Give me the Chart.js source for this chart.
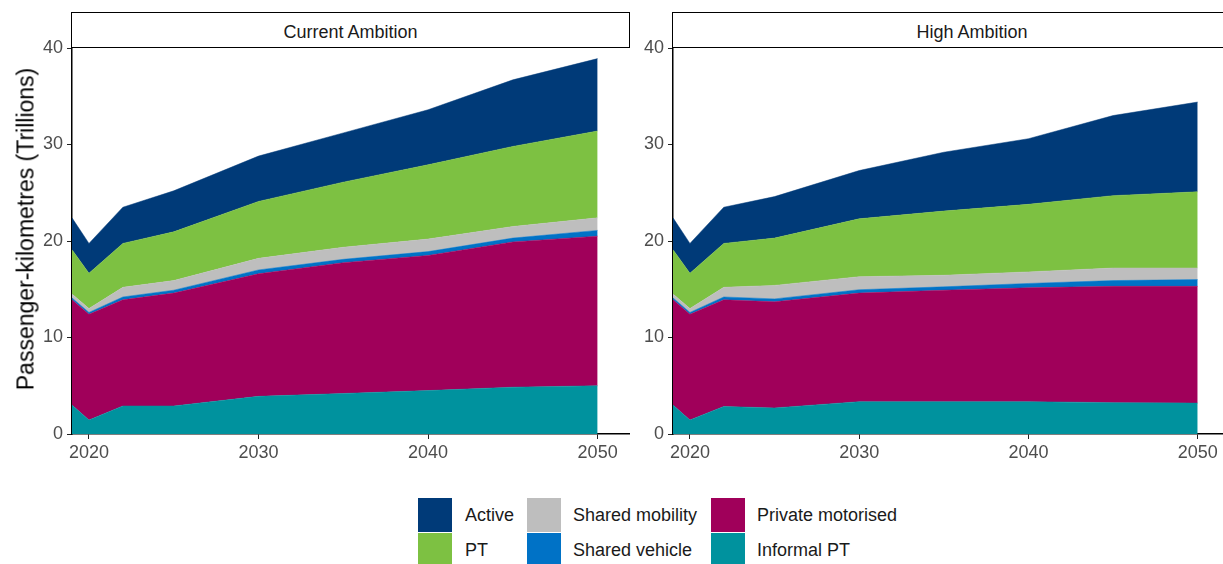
<!DOCTYPE html>
<html>
<head>
<meta charset="utf-8">
<script src="https://cdn.jsdelivr.net/npm/chart.js@4/dist/chart.umd.min.js"></script>
<style>
  body { margin: 0; width: 1223px; height: 564px; overflow: hidden; background: #fff; font-family: "Liberation Sans", Arial, sans-serif; position: relative; }
  canvas { position: absolute; top: 0; }
  .strip { position: absolute; top: 12px; height: 36px; box-sizing: border-box; border: 1.5px solid #000; font-size: 18px; color: #1a1a1a; text-align: center; line-height: 38px; background: #fff; }
  .ytitle { position: absolute; left: 26px; top: 229px; font-size: 23px; color: #000; white-space: nowrap; transform: translate(-50%, -50%) rotate(-90deg); }
  .key { position: absolute; width: 34px; height: 34px; }
  .lab { position: absolute; font-size: 18px; color: #1a1a1a; line-height: 35px; white-space: nowrap; }
</style>
</head>
<body>
<canvas id="left" width="650" height="480" style="left:0"></canvas>
<canvas id="right" width="600" height="480" style="left:640px"></canvas>
<div class="strip" style="left:71px; width:559px">Current Ambition</div>
<div class="strip" style="left:672px; width:600px">High Ambition</div>
<div class="ytitle">Passenger-kilometres (Trillions)</div>
<div id="legend"></div>
<script>
// years with data
const years = [2019, 2020, 2022, 2025, 2030, 2035, 2040, 2045, 2050];
const xTicks = [2020, 2030, 2040, 2050];
const yTicks = [0, 10, 20, 30, 40];

// stacked bottom to top
const series = ['Informal PT', 'Private motorised', 'Shared vehicle', 'Shared mobility', 'PT', 'Active'];
const colors = ['#00929E', '#A0005A', '#0072C6', '#BEBEBE', '#7DC142', '#003A78'];

// Current Ambition (trillion pkm)
const curInformal = [3.0, 1.45, 2.9, 2.9, 3.9, 4.2, 4.5, 4.85, 5.0];
const curPrivate  = [10.9, 10.95, 11.0, 11.7, 12.7, 13.55, 14.0, 15.05, 15.5];
const curSharedV  = [0.2, 0.2, 0.3, 0.3, 0.4, 0.35, 0.4, 0.4, 0.6];
const curSharedM  = [0.4, 0.4, 1.0, 1.0, 1.2, 1.25, 1.3, 1.2, 1.3];
const curPT       = [4.6, 3.65, 4.55, 5.05, 5.9, 6.75, 7.7, 8.3, 9.0];
const curActive   = [3.3, 3.1, 3.75, 4.25, 4.7, 5.1, 5.7, 6.9, 7.5];

// High Ambition
const highInformal = [3.0, 1.45, 2.85, 2.7, 3.35, 3.35, 3.35, 3.25, 3.2];
const highPrivate  = [10.9, 10.95, 11.05, 11.0, 11.25, 11.55, 11.8, 12.05, 12.1];
const highSharedV  = [0.2, 0.2, 0.3, 0.3, 0.35, 0.35, 0.45, 0.6, 0.7];
const highSharedM  = [0.4, 0.4, 1.0, 1.4, 1.35, 1.2, 1.2, 1.3, 1.2];
const highPT       = [4.6, 3.65, 4.55, 4.9, 6.0, 6.65, 7.0, 7.5, 7.9];
const highActive   = [3.3, 3.1, 3.75, 4.3, 5.0, 6.1, 6.8, 8.3, 9.3];

const tickFont = { family: 'Liberation Sans', size: 18 };

function makeChart(id, values, yWidth, padRight) {
  const datasets = values.map((vals, i) => ({
    label: series[i],
    data: years.map((yr, j) => ({ x: yr, y: vals[j] })),
    backgroundColor: colors[i],
    borderColor: colors[i],
    borderWidth: 0.5,
    pointRadius: 0,
    tension: 0,
    fill: i === 0 ? 'origin' : '-1'
  }));

  return new Chart(document.getElementById(id), {
    type: 'line',
    data: { datasets: datasets },
    options: {
      responsive: false,
      animation: false,
      devicePixelRatio: 1,
      layout: { padding: { top: 48, right: padRight, left: 0, bottom: 16 } },
      plugins: { legend: { display: false }, tooltip: { enabled: false } },
      scales: {
        x: {
          type: 'linear',
          min: 2019,
          max: 2051.85,
          afterBuildTicks: axis => { axis.ticks = xTicks.map(v => ({ value: v })); },
          afterFit: axis => { axis.height = 30; },
          ticks: { font: tickFont, color: '#4d4d4d', padding: 3, maxRotation: 0, callback: v => String(v) },
          grid: { drawOnChartArea: false, tickLength: 5, color: '#222', lineWidth: 1 },
          border: { color: '#000', width: 1.5 }
        },
        y: {
          stacked: true,
          min: 0,
          max: 40,
          afterBuildTicks: axis => { axis.ticks = yTicks.map(v => ({ value: v })); },
          afterFit: axis => { axis.width = yWidth; },
          ticks: { font: tickFont, color: '#4d4d4d', padding: 4 },
          grid: { drawOnChartArea: false, tickLength: 5, color: '#222', lineWidth: 1 },
          border: { color: '#000', width: 1.5 }
        }
      }
    }
  });
}

makeChart('left', [curInformal, curPrivate, curSharedV, curSharedM, curPT, curActive], 72, 21);
makeChart('right', [highInformal, highPrivate, highSharedV, highSharedM, highPT, highActive], 33, 11);

// legend, filled by column
const legendOrder = ['Active', 'PT', 'Shared mobility', 'Shared vehicle', 'Private motorised', 'Informal PT'];
const keyX = [418, 527, 711];
const textX = [465, 573, 757];
const rowY = [498, 533];
const legend = document.getElementById('legend');
legendOrder.forEach((name, k) => {
  const col = Math.floor(k / 2), row = k % 2;
  const key = document.createElement('div');
  key.className = 'key';
  key.style.left = keyX[col] + 'px';
  key.style.top = rowY[row] + 'px';
  key.style.background = colors[series.indexOf(name)];
  legend.appendChild(key);
  const lab = document.createElement('div');
  lab.className = 'lab';
  lab.style.left = textX[col] + 'px';
  lab.style.top = rowY[row] + 'px';
  lab.textContent = name;
  legend.appendChild(lab);
});
</script>
</body>
</html>
